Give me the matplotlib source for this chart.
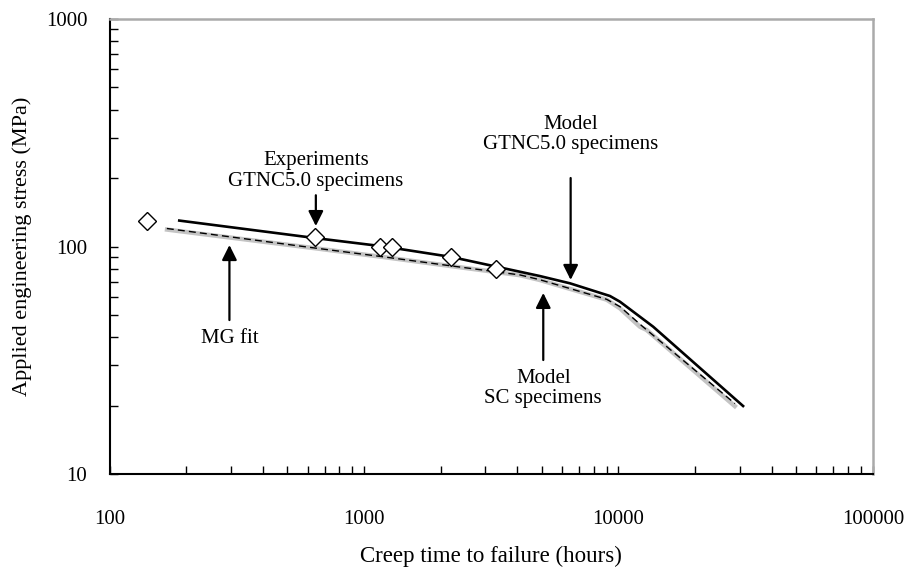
import matplotlib
matplotlib.use("Agg")
import matplotlib.pyplot as plt
import matplotlib.ticker as ticker

plt.rcParams['font.family'] = ['Liberation Serif', 'DejaVu Serif']

# ── data (hours, MPa) ───────────────────────────────────────────────────────
exp_t = [140, 640, 1160, 1290, 2200, 3300]
exp_s = [130, 110, 100, 100, 90, 80]

gtn_t = [188, 640, 1200, 2200, 3320, 4900, 6450, 9260, 10140, 13700, 30900]
gtn_s = [130, 109, 100, 90, 81.5, 74.2, 68.9, 60.6, 57.2, 44.4, 19.9]

mg_t = [168, 640, 1200, 2200, 4100, 4900, 8990, 10140, 12480, 28700]
mg_s = [120, 98.5, 90, 82.2, 75, 71.5, 58.6, 54.4, 44.4, 20.4]

sc_t = [165, 640, 1200, 2200, 4100, 4900, 8990, 10140, 12150, 12900, 29100]
sc_s = [119, 98.3, 89.8, 82, 74.8, 71.3, 58.4, 53.5, 44.4, 43.0, 19.6]

fig = plt.figure(figsize=(9.05, 5.67), dpi=100)
ax = fig.add_axes([0.121, 0.164, 0.8435, 0.8025])

ax.plot(sc_t, sc_s, color='#c4c4c4', lw=3.2, solid_capstyle='butt', zorder=2)
ax.plot(mg_t, mg_s, color='black', lw=1.0, ls=(0, (5, 3)), zorder=3)
ax.plot(gtn_t, gtn_s, color='black', lw=1.9, zorder=4)
ax.plot(exp_t, exp_s, ls='none', marker='D', ms=9.5, mfc='white', mec='black',
        mew=1.0, zorder=5)

ax.set_xscale('log')
ax.set_yscale('log')
ax.set_xlim(100, 100000)
ax.set_ylim(10, 1000)

ax.xaxis.set_major_formatter(ticker.FuncFormatter(lambda v, p: f'{v:.0f}'))
ax.yaxis.set_major_formatter(ticker.FuncFormatter(lambda v, p: f'{v:.0f}'))
ax.xaxis.set_minor_formatter(ticker.NullFormatter())
ax.yaxis.set_minor_formatter(ticker.NullFormatter())
ax.tick_params(which='both', direction='in', length=6, width=1, labelsize=15,
               top=False, right=False)
ax.tick_params(axis='x', pad=26)
ax.tick_params(axis='y', pad=16)

for s in ['left', 'bottom']:
    ax.spines[s].set_linewidth(1.5)
for s in ['top', 'right']:
    ax.spines[s].set_color('#aaaaaa')
    ax.spines[s].set_linewidth(1.8)

ax.set_xlabel('Creep time to failure (hours)', fontsize=16.5, labelpad=12)
ax.set_ylabel('Applied engineering stress (MPa)', fontsize=16, labelpad=10)

# ── annotations ──────────────────────────────────────────────────────────────
arrow = dict(arrowstyle='-|>,head_length=0.9,head_width=0.45', color='black',
             lw=1.6, shrinkA=0, shrinkB=0)

ax.annotate('', xy=(647, 123), xytext=(647, 168), arrowprops=arrow)
ax.text(647, 176, 'Experiments\nGTNC5.0 specimens', ha='center', va='bottom',
        fontsize=15, linespacing=1.1)

ax.annotate('', xy=(6490, 71.3), xytext=(6490, 200), arrowprops=arrow)
ax.text(6490, 255, 'Model\nGTNC5.0 specimens', ha='center', va='bottom',
        fontsize=15, linespacing=1.1)

ax.annotate('', xy=(296, 101.5), xytext=(296, 47.5), arrowprops=arrow)
ax.text(296, 43.5, 'MG fit', ha='center', va='top', fontsize=15)

ax.annotate('', xy=(5066, 62.5), xytext=(5066, 31.7), arrowprops=arrow)
ax.text(5066, 29, 'Model\nSC specimens', ha='center', va='top', fontsize=15,
        linespacing=1.1)

fig.savefig('out.png', dpi=100)
